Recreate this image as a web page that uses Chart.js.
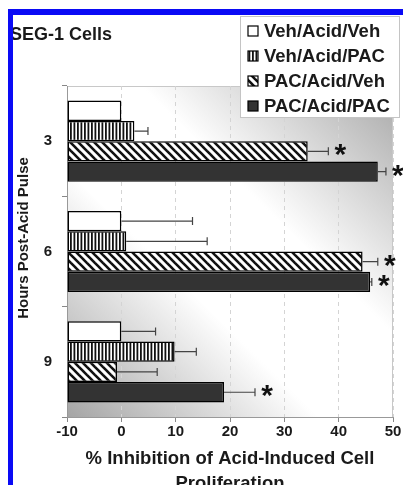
<!DOCTYPE html>
<html>
<head>
<meta charset="utf-8">
<script src="https://cdn.jsdelivr.net/npm/chart.js@4.4.1/dist/chart.umd.min.js"></script>
<style>
  html, body { margin: 0; padding: 0; overflow: hidden; background: #fff; }
  #wrap { position: relative; width: 403px; height: 485px; overflow: hidden; }
  #frame { position: absolute; left: 8px; top: 9px; right: 0; bottom: 0;
           border-top: 6px solid #0a0af5; border-left: 5px solid #0a0af5; pointer-events: none; }
</style>
</head>
<body>
<div id="wrap">
  <canvas id="chart" width="403" height="510"></canvas>
  <div id="frame"></div>
</div>
<script>
// hours after the acid pulse
const categories = ['3', '6', '9'];
const seriesNames = ['Veh/Acid/Veh', 'Veh/Acid/PAC', 'PAC/Acid/Veh', 'PAC/Acid/PAC'];

// % inhibition, with the (upper) error bar length
const vehAcidVeh = [0, 0, 0];
const vehAcidVehErr = [0, 13.1, 6.3];
const vehAcidPac = [2.4, 0.9, 9.8];
const vehAcidPacErr = [2.5, 14.9, 4.0];
const pacAcidVeh = [34.3, 44.4, -0.8];
const pacAcidVehErr = [3.8, 2.8, 7.4];
const pacAcidPac = [47.2, 45.8, 18.9];
const pacAcidPacErr = [1.5, 0.3, 5.7];

// significance marks (*)
const pacAcidVehSig = [true, true, false];
const pacAcidPacSig = [true, true, true];

const xTicks = [-10, 0, 10, 20, 30, 40, 50];

const FONT = "'Liberation Sans', Arial, sans-serif";
Chart.defaults.font.family = FONT;
Chart.defaults.color = '#1a1a1a';

function stripes() {
    let c = document.createElement('canvas');
    c.width = 7; c.height = 7;
    let g = c.getContext('2d');
    g.fillStyle = '#fff';
    g.fillRect(0, 0, 7, 7);
    g.fillStyle = '#111';
    g.fillRect(0, 0, 1.8, 7);
    g.fillRect(3.5, 0, 1.8, 7);
    return g.createPattern(c, 'repeat');
}

function hatch() {
    let c = document.createElement('canvas');
    c.width = 8; c.height = 8;
    let g = c.getContext('2d');
    g.fillStyle = '#fff';
    g.fillRect(0, 0, 8, 8);
    g.strokeStyle = '#111';
    g.lineWidth = 2.6;
    for (let k = -1; k <= 1; k++) {
        g.beginPath();
        g.moveTo(k * 8 - 2, -2);
        g.lineTo(k * 8 + 10, 10);
        g.stroke();
    }
    return g.createPattern(c, 'repeat');
}

const fills = ['#ffffff', stripes(), hatch(), '#333333'];

function bars(i, data, errors, sig) {
    return {
        label: seriesNames[i],
        data: data,
        errors: errors,
        sig: sig || [],
        base: -10,
        backgroundColor: fills[i],
        borderColor: '#000',
        borderWidth: 1.5,
        borderSkipped: false,
        categoryPercentage: 0.735,
        barPercentage: 1.0,
    };
}

const backdrop = {
    id: 'backdrop',
    beforeDraw(chart) {
        const {ctx, chartArea: a} = chart;
        let g = ctx.createLinearGradient(a.left, a.bottom, a.right, a.top);
        g.addColorStop(0, '#a4a4a4');
        g.addColorStop(0.38, '#ffffff');
        g.addColorStop(0.62, '#ffffff');
        g.addColorStop(1, '#a8a8a8');
        ctx.save();
        ctx.fillStyle = g;
        ctx.fillRect(a.left, a.top, a.right - a.left, a.bottom - a.top);
        ctx.strokeStyle = '#c8c8c8';
        ctx.lineWidth = 1;
        ctx.strokeRect(a.left + 0.5, a.top + 0.5, a.right - a.left - 1, a.bottom - a.top);
        ctx.restore();
    }
};

const errorBars = {
    id: 'errorBars',
    afterDatasetsDraw(chart) {
        const ctx = chart.ctx;
        const x = chart.scales.x;
        ctx.save();
        chart.data.datasets.forEach((ds, i) => {
            chart.getDatasetMeta(i).data.forEach((bar, j) => {
                let v = ds.data[j], e = ds.errors[j];
                let x0 = x.getPixelForValue(v);
                let x1 = x.getPixelForValue(v + e);
                if (e > 0) {
                    ctx.strokeStyle = '#444';
                    ctx.lineWidth = 1.2;
                    ctx.beginPath();
                    ctx.moveTo(x0, bar.y);
                    ctx.lineTo(x1, bar.y);
                    ctx.moveTo(x1, bar.y - 4);
                    ctx.lineTo(x1, bar.y + 4);
                    ctx.stroke();
                }
                if (ds.sig[j]) {
                    ctx.font = 'bold 30px ' + FONT;
                    ctx.fillStyle = '#111';
                    ctx.textAlign = 'center';
                    ctx.textBaseline = 'alphabetic';
                    let m = ctx.measureText('*');
                    let dy = (m.actualBoundingBoxAscent - m.actualBoundingBoxDescent) / 2;
                    ctx.fillText('*', Math.max(x0, x1) + 12, bar.y + dy - 1);
                }
            });
        });
        ctx.restore();
    }
};

const sideText = {
    id: 'sideText',
    afterDraw(chart) {
        const ctx = chart.ctx;
        ctx.save();
        // y axis title
        ctx.translate(24, 238);
        ctx.rotate(-Math.PI / 2);
        ctx.font = 'bold 15px ' + FONT;
        ctx.fillStyle = '#1a1a1a';
        ctx.textAlign = 'center';
        ctx.textBaseline = 'middle';
        ctx.fillText('Hours Post-Acid Pulse', 0, 0);
        ctx.restore();

        // legend box overlapping the plot
        ctx.save();
        ctx.fillStyle = '#fff';
        ctx.fillRect(240, 16, 160, 102);
        ctx.strokeStyle = '#c4c4c4';
        ctx.lineWidth = 1;
        ctx.strokeRect(240.5, 16.5, 159, 101);
        ctx.font = 'bold 18.5px ' + FONT;
        ctx.textBaseline = 'middle';
        chart.data.datasets.forEach((ds, i) => {
            let y = 31 + i * 25;
            ctx.fillStyle = ds.backgroundColor;
            ctx.fillRect(248, y - 5, 10, 10);
            ctx.strokeStyle = '#000';
            ctx.lineWidth = 1.2;
            ctx.strokeRect(248, y - 5, 10, 10);
            ctx.fillStyle = '#1a1a1a';
            ctx.fillText(ds.label, 264, y + 1);
        });
        ctx.restore();
    }
};

new Chart(document.getElementById('chart'), {
    type: 'bar',
    data: {
        labels: categories,
        datasets: [
            bars(0, vehAcidVeh, vehAcidVehErr),
            bars(1, vehAcidPac, vehAcidPacErr),
            bars(2, pacAcidVeh, pacAcidVehErr, pacAcidVehSig),
            bars(3, pacAcidPac, pacAcidPacErr, pacAcidPacSig),
        ],
    },
    options: {
        indexAxis: 'y',
        responsive: false,
        animation: false,
        layout: { padding: { left: 10, right: 10, top: 0, bottom: 0 } },
        plugins: {
            legend: { display: false },
            tooltip: { enabled: false },
            title: {
                display: true,
                text: 'SEG-1 Cells',
                align: 'start',
                color: '#1a1a1a',
                font: { size: 18, weight: 'bold' },
                padding: { top: 24, bottom: 40.4 },
            },
        },
        scales: {
            x: {
                min: -10,
                max: 50,
                afterBuildTicks: (s) => { s.ticks = xTicks.map(v => ({ value: v })); },
                afterFit: (s) => { s.height = 93; },
                ticks: { color: '#1a1a1a', font: { size: 15, weight: 'bold' }, padding: 1 },
                grid: { color: '#d4d4d4', tickColor: '#888', tickLength: 5 },
                border: { color: '#999', width: 1, dash: [4, 4] },
                title: {
                    display: true,
                    text: ['% Inhibition of Acid-Induced Cell', 'Proliferation'],
                    color: '#1a1a1a',
                    font: { size: 18.5, weight: 'bold', lineHeight: '25px' },
                    padding: { top: 0, bottom: 13.5 },
                },
            },
            y: {
                afterFit: (s) => { s.width = 57; },
                ticks: { color: '#1a1a1a', font: { size: 15, weight: 'bold' }, padding: 10 },
                grid: { offset: true, drawOnChartArea: false, color: '#888', tickLength: 5 },
                border: { color: '#999', width: 1 },
            },
        },
    },
    plugins: [backdrop, errorBars, sideText],
});
</script>
</body>
</html>
